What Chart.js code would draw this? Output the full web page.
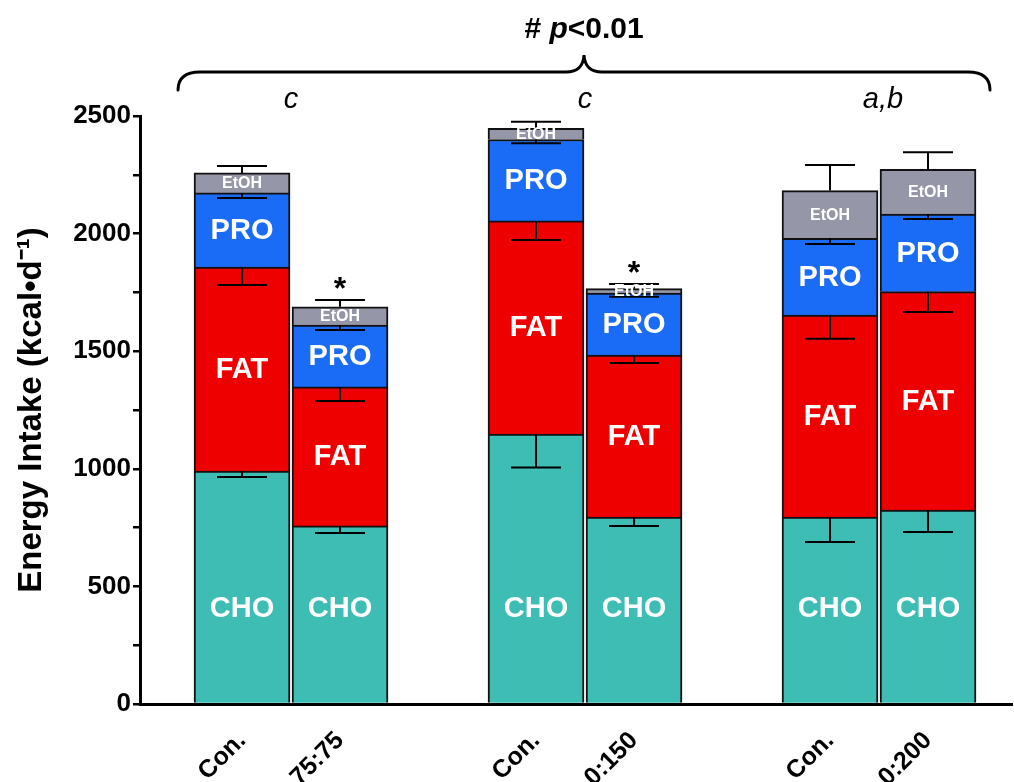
<!DOCTYPE html>
<html>
<head>
<meta charset="utf-8">
<script src="https://cdn.jsdelivr.net/npm/chart.js@4.4.1/dist/chart.umd.min.js"></script>
<style>
  html, body { margin: 0; padding: 0; background: #ffffff; }
  #wrap { width: 1014px; height: 782px; position: relative; }
  canvas { display: block; }
</style>
</head>
<body>
<div id="wrap"><canvas id="c" width="1014" height="782"></canvas></div>
<script>
// ---------- data (kcal/d) ----------
const groups = ['Con.', '75:75', 'Con.', '0:150', 'Con.', '0:200'];
const xPositions = [0, 1, 3, 4, 6, 7];
const components = ['CHO', 'FAT', 'PRO', 'EtOH'];
const cho  = [990, 757, 1148, 795, 795, 825];
const fat  = [868, 591, 906, 689, 859, 928];
const pro  = [315, 263, 346, 263, 326, 330];
const etoh = [85, 78, 48, 19, 203, 190];
const choErr  = [25, 30, 143, 38, 106, 94];
const fatErr  = [77, 60, 81, 34, 101, 86];
const proErr  = [22, 21, 16, 15, 24, 21];
const etohErr = [29, 29, 28, 20, 109, 73];
const stars = ['', '*', '', '*', '', ''];
const groupLetters = ['c', 'c', 'a,b'];
const groupCenters = [0.5, 3.5, 6.5];
const yTicks = { min: 0, max: 2500, step: 250, labelEvery: 500 };

// ---------- styles ----------
const colors = ['#3EBDB4', '#EE0000', '#1A6CF6', '#9597A8'];
const FONT = '"Liberation Sans", Arial, Helvetica, sans-serif';
const values = [cho, fat, pro, etoh];
const errs = [choErr, fatErr, proErr, etohErr];

// build floating segments [base, top]
const bases = groups.map(() => 0);
const segs = values.map(arr => arr.map((v, i) => {
  const lo = bases[i];
  const hi = lo + v;
  bases[i] = hi;
  return [lo, hi];
}));

const datasets = components.map((name, k) => ({
  label: name,
  data: xPositions.map((x, i) => ({ x: x, y: segs[k][i] })),
  backgroundColor: colors[k],
  borderColor: '#111111',
  borderWidth: { top: 2, left: 2, right: 2, bottom: 0 },
  borderSkipped: false,
  barThickness: 96,
  grouped: false
}));

const overlay = {
  id: 'overlay',
  afterDatasetsDraw(chart) {
    const ctx = chart.ctx;
    const xs = chart.scales.x, ys = chart.scales.y;
    ctx.save();
    // error bars
    ctx.strokeStyle = '#000';
    ctx.lineWidth = 2;
    const half = 25;
    components.forEach((name, k) => {
      xPositions.forEach((xv, i) => {
        const top = segs[k][i][1];
        const end = name === 'EtOH' ? top + errs[k][i] : top - errs[k][i];
        const px = xs.getPixelForValue(xv);
        const y0 = ys.getPixelForValue(top), y1 = ys.getPixelForValue(end);
        ctx.beginPath();
        ctx.moveTo(px, y0); ctx.lineTo(px, y1);
        ctx.moveTo(px - half, y1); ctx.lineTo(px + half, y1);
        ctx.stroke();
      });
    });
    // segment labels
    ctx.fillStyle = '#fff';
    ctx.textAlign = 'center';
    ctx.textBaseline = 'middle';
    components.forEach((name, k) => {
      xPositions.forEach((xv, i) => {
        const px = xs.getPixelForValue(xv);
        let py;
        if (name === 'CHO') py = ys.getPixelForValue(410);
        else py = (ys.getPixelForValue(segs[k][i][0]) + ys.getPixelForValue(segs[k][i][1])) / 2;
        ctx.font = (name === 'EtOH' ? 'bold 16px ' : 'bold 29px ') + FONT;
        ctx.fillText(name, px, py + 1);
      });
    });
    // stars
    ctx.fillStyle = '#000';
    ctx.font = 'bold 32px ' + FONT;
    ctx.textBaseline = 'alphabetic';
    stars.forEach((s, i) => {
      if (!s) return;
      const top = segs[3][i][1] + etohErr[i];
      ctx.fillText(s, xs.getPixelForValue(xPositions[i]), ys.getPixelForValue(top) - 1);
    });
    // group letters
    ctx.font = 'italic 29px ' + FONT;
    ctx.textBaseline = 'middle';
    groupLetters.forEach((t, g) => {
      ctx.fillText(t, xs.getPixelForValue(groupCenters[g]) + (g === 2 ? 4 : 0), 100);
    });
    // brace
    const L = xs.getPixelForValue(xPositions[0]) - 64;
    const R = xs.getPixelForValue(xPositions[5]) + 62;
    const C = (L + R) / 2;
    const yEnd = 90, yBar = 72, yTip = 55;
    ctx.lineWidth = 3;
    ctx.lineCap = 'round';
    ctx.beginPath();
    ctx.moveTo(L, yEnd);
    ctx.quadraticCurveTo(L, yBar, L + 22, yBar);
    ctx.lineTo(C - 18, yBar);
    ctx.quadraticCurveTo(C - 1, yBar, C, yTip);
    ctx.quadraticCurveTo(C + 1, yBar, C + 18, yBar);
    ctx.lineTo(R - 22, yBar);
    ctx.quadraticCurveTo(R, yBar, R, yEnd);
    ctx.stroke();
    // header "# p<0.01"
    const parts = [['# ', 'bold 30px '], ['p', 'italic bold 30px '], ['<0.01', 'bold 30px ']];
    let total = 0;
    parts.forEach(p => { ctx.font = p[1] + FONT; total += ctx.measureText(p[0]).width; });
    let x = C - total / 2;
    ctx.textAlign = 'left';
    ctx.textBaseline = 'middle';
    parts.forEach(p => { ctx.font = p[1] + FONT; ctx.fillText(p[0], x, 30); x += ctx.measureText(p[0]).width; });
    ctx.restore();
  }
};

new Chart(document.getElementById('c'), {
  type: 'bar',
  data: { datasets: datasets },
  options: {
    responsive: false,
    animation: false,
    layout: { padding: { top: 116, right: 2, left: 0, bottom: 0 } },
    plugins: { legend: { display: false }, tooltip: { enabled: false } },
    scales: {
      x: {
        type: 'linear',
        min: -1.041,
        max: 7.857,
        offset: false,
        grid: { display: false, drawTicks: false },
        border: { display: true, color: '#000', width: 3 },
        afterBuildTicks: (ax) => { ax.ticks = xPositions.map(v => ({ value: v })); },
        afterFit: (s) => { s.height = 78; },
        ticks: {
          autoSkip: false,
          minRotation: 45,
          maxRotation: 45,
          padding: 22,
          color: '#000',
          font: { family: FONT, weight: 'bold', size: 25 },
          callback: (v) => { const i = xPositions.indexOf(v); return i >= 0 ? groups[i] : ''; }
        }
      },
      y: {
        min: yTicks.min,
        max: yTicks.max,
        afterFit: (s) => { s.width = 140; },
        grid: { drawOnChartArea: false, tickLength: 7, lineWidth: 2.5, color: '#000' },
        border: { display: true, color: '#000', width: 3 },
        ticks: {
          stepSize: yTicks.step,
          padding: 2,
          color: '#000',
          font: { family: FONT, weight: 'bold', size: 26 },
          callback: (v) => (v % yTicks.labelEvery === 0 ? String(v) : '')
        },
        title: {
          display: true,
          text: 'Energy Intake (kcal\u2022d\u207B\u00B9)',
          color: '#000',
          font: { family: FONT, weight: 'bold', size: 33 },
          padding: { top: 12, bottom: 0 }
        }
      }
    }
  },
  plugins: [overlay]
});
</script>
</body>
</html>
